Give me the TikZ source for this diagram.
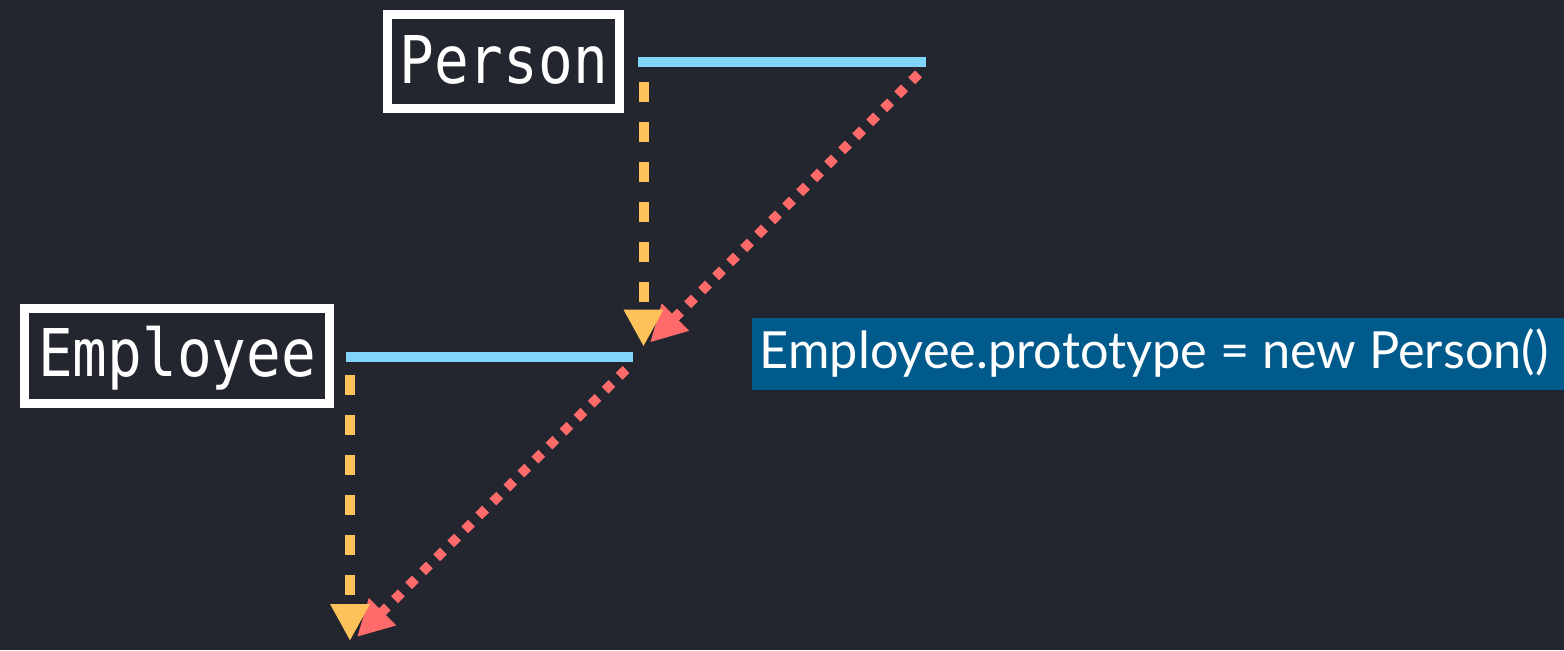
\documentclass[tikz,border=0pt]{standalone}
\usepackage{fontspec}
\usepackage{graphicx}
\setmainfont{Lato}
\newfontfamily\monofont{DejaVu Sans Mono}
\usetikzlibrary{arrows.meta}
\definecolor{bgc}{RGB}{36,38,47}
\definecolor{linkblue}{RGB}{129,212,250}
\definecolor{protoorange}{RGB}{255,193,90}
\definecolor{protored}{RGB}{255,107,107}
\definecolor{labelblue}{RGB}{0,90,140}
\tikzset{
  classbox/.style={draw=white, line width=6.75pt, inner sep=0pt, text=white,
    font=\monofont\fontsize{49.4}{50}\selectfont, text height=36pt, minimum height=70.8pt},
  bline/.style={draw=linkblue, line width=7.5pt},
  oline/.style={draw=protoorange, line width=7.5pt, dash pattern=on 15pt off 15pt,
    -{Triangle[width=27.75pt,length=27.75pt]}},
  rline/.style={draw=protored, line width=7.2pt, dash pattern=on 7.2pt off 7.65pt,
    -{Triangle[width=27pt,length=27pt]}},
  codelabel/.style={fill=labelblue, text=white, font=\fontsize{38.4}{40}\selectfont,
    inner xsep=6pt, inner ysep=10.8pt, text height=27.5pt, text depth=5.5pt,
    anchor=north west}
}
\begin{document}
\begin{tikzpicture}[x=0.75pt,y=-0.75pt]
\fill[bgc] (0,0) rectangle (1564,650);
\useasboundingbox (0,0) rectangle (1564,650);

\node[classbox, minimum width=174.5pt, text depth=3.6pt] (person) at (503.6,61.6) {\scalebox{0.876}[1]{Person}};
\node[classbox, minimum width=228.5pt, text depth=5.55pt] (employee) at (177.2,356) {\scalebox{0.876}[1]{Employee}};
\node[codelabel] (code) at (751.6,317.3) {\makebox[597.3pt][l]{\scalebox{0.985}[1]{Employee.prototype = new Person()}}};

\coordinate (pb1) at (638,62.3);
\coordinate (pb2) at (926,62.3);
\coordinate (po1) at (643.5,82);
\coordinate (po2) at (643.5,346.7);
\coordinate (pr1) at (918.5,74);
\coordinate (pr2) at (650,342.5);

\coordinate (eb1) at (345.8,356.7);
\coordinate (eb2) at (632.7,356.7);
\coordinate (eo1) at (350,375);
\coordinate (eo2) at (350,641);
\coordinate (er1) at (626,369.5);
\coordinate (er2) at (357,637);

\draw[bline] (pb1) -- (pb2);
\draw[bline] (eb1) -- (eb2);
\draw[rline] (pr1) -- (pr2);
\draw[rline] (er1) -- (er2);
\draw[oline] (po1) -- (po2);
\draw[oline] (eo1) -- (eo2);
\end{tikzpicture}
\end{document}
